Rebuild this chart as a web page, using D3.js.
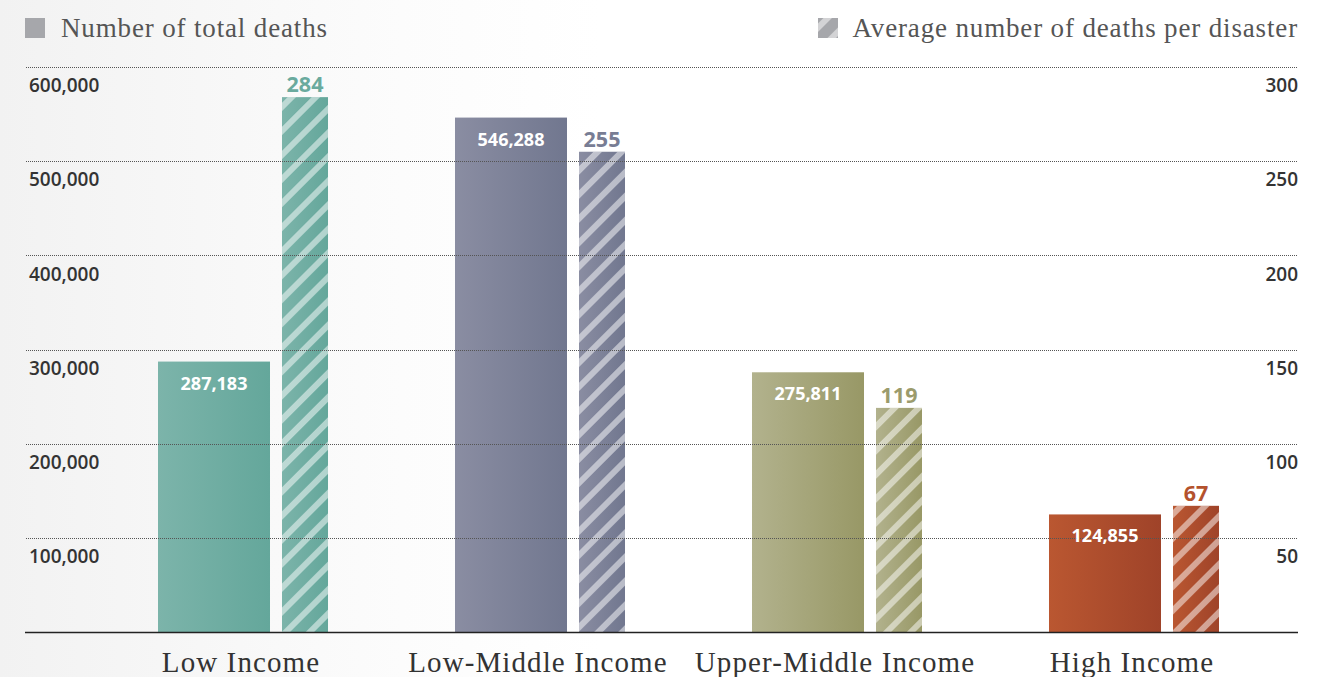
<!DOCTYPE html>
<html>
<head>
<meta charset="utf-8">
<script src="https://cdn.jsdelivr.net/npm/d3@7"></script>
<style>
  body { margin: 0; background: #fff; }
  svg { display: block; }
</style>
</head>
<body>
<div id="chart"></div>
<script>
// Data
const categories = ["Low Income", "Low-Middle Income", "Upper-Middle Income", "High Income"];
const totalDeaths = [287183, 546288, 275811, 124855];
const avgDeaths = [284, 255, 119, 67];
const leftTicks = [100000, 200000, 300000, 400000, 500000, 600000];
const rightTicks = [50, 100, 150, 200, 250, 300];
const colorsLight = ["#7cb4aa", "#8a8da2", "#b2b28d", "#ba5731"];
const colorsDark = ["#64a79b", "#71778f", "#989866", "#9f4329"];
const labelColors = ["#6aaa9e", "#787d94", "#9b9b6c", "#b4522d"];

const W = 1335, H = 677;
const svg = d3.select("#chart").append("svg")
    .attr("width", W)
    .attr("height", H);

const defs = svg.append("defs");

// soft grey fade on the left edge
const bg = defs.append("linearGradient").attr("id", "bg");
bg.append("stop").attr("offset", "0%").attr("stop-color", "#f2f2f2");
bg.append("stop").attr("offset", "30%").attr("stop-color", "#fcfcfc");
bg.append("stop").attr("offset", "45%").attr("stop-color", "#ffffff");
svg.append("rect").attr("width", W).attr("height", H).attr("fill", "url(#bg)");

// bar gradients and stripe patterns
categories.forEach((c, i) => {
    const g = defs.append("linearGradient").attr("id", "grad" + i);
    g.append("stop").attr("offset", "0%").attr("stop-color", colorsLight[i]);
    g.append("stop").attr("offset", "100%").attr("stop-color", colorsDark[i]);
});
const stripe = defs.append("pattern")
    .attr("id", "stripes")
    .attr("patternUnits", "userSpaceOnUse")
    .attr("width", 17).attr("height", 17)
    .attr("patternTransform", "rotate(45)");
stripe.append("rect")
    .attr("x", 0).attr("y", 0)
    .attr("width", 6).attr("height", 17)
    .attr("fill", "rgba(255,255,255,0.5)");

const y0 = 632, yTop = 67;
const yLeft = d3.scaleLinear().domain([0, 600000]).range([y0, yTop]);
const yRight = d3.scaleLinear().domain([0, 300]).range([y0, yTop]);

const x = d3.scaleBand()
    .domain(categories)
    .range([158, 1219])
    .paddingInner(0.4276)
    .paddingOuter(0);
const bw = x.bandwidth();
const solidW = bw * 112 / 170;
const hatchX = bw * 124 / 170;
const hatchW = bw - hatchX;

const fmt = d3.format(",");
const sans = "'Open Sans', 'Noto Sans', sans-serif";
const serif = "'Liberation Serif', 'DejaVu Serif', serif";

// solid bars
svg.append("g").selectAll("rect")
    .data(totalDeaths)
    .join("rect")
    .attr("x", (d, i) => x(categories[i]))
    .attr("y", d => yLeft(d))
    .attr("width", solidW)
    .attr("height", d => y0 - yLeft(d))
    .attr("fill", (d, i) => `url(#grad${i})`);

// hatched bars
const hb = svg.append("g").selectAll("g")
    .data(avgDeaths)
    .join("g");
hb.append("rect")
    .attr("x", (d, i) => x(categories[i]) + hatchX)
    .attr("y", d => yRight(d))
    .attr("width", hatchW)
    .attr("height", d => y0 - yRight(d))
    .attr("fill", (d, i) => `url(#grad${i})`);
hb.append("rect")
    .attr("x", (d, i) => x(categories[i]) + hatchX)
    .attr("y", d => yRight(d))
    .attr("width", hatchW)
    .attr("height", d => y0 - yRight(d))
    .attr("fill", "url(#stripes)");

// grid lines (dotted, above the bars)
svg.append("g").selectAll("line")
    .data(leftTicks)
    .join("line")
    .attr("x1", 26).attr("x2", 1298)
    .attr("y1", d => Math.round(yLeft(d)) + 0.5)
    .attr("y2", d => Math.round(yLeft(d)) + 0.5)
    .attr("stroke", "#555")
    .attr("stroke-width", 1)
    .attr("stroke-dasharray", "1,1");

// baseline
svg.append("line")
    .attr("x1", 25).attr("x2", 1298)
    .attr("y1", y0 + 0.5).attr("y2", y0 + 0.5)
    .attr("stroke", "#222")
    .attr("stroke-width", 1.5);

// axes labels
const leftAxis = d3.axisLeft(yLeft).tickValues(leftTicks).tickFormat(fmt).tickSize(0);
const gl = svg.append("g").attr("transform", "translate(29,0)").call(leftAxis);
gl.select(".domain").remove();
gl.selectAll("text")
    .attr("x", 0).attr("dy", "1.3em")
    .attr("text-anchor", "start")
    .attr("font-family", sans)
    .attr("font-size", 19)
    .attr("font-weight", 600)
    .attr("fill", "#333");

const rightAxis = d3.axisRight(yRight).tickValues(rightTicks).tickSize(0);
const gr = svg.append("g").attr("transform", "translate(1298,0)").call(rightAxis);
gr.select(".domain").remove();
gr.selectAll("text")
    .attr("x", 0).attr("dy", "1.3em")
    .attr("text-anchor", "end")
    .attr("font-family", sans)
    .attr("font-size", 19)
    .attr("font-weight", 600)
    .attr("fill", "#333");

// value labels
svg.append("g").selectAll("text")
    .data(totalDeaths)
    .join("text")
    .attr("x", (d, i) => x(categories[i]) + solidW / 2)
    .attr("y", d => yLeft(d) + 28)
    .attr("text-anchor", "middle")
    .attr("font-family", sans)
    .attr("font-size", 18)
    .attr("font-weight", 700)
    .attr("fill", "#fff")
    .text(d => fmt(d));

svg.append("g").selectAll("text")
    .data(avgDeaths)
    .join("text")
    .attr("x", (d, i) => x(categories[i]) + hatchX + hatchW / 2)
    .attr("y", d => yRight(d) - 5)
    .attr("text-anchor", "middle")
    .attr("font-family", sans)
    .attr("font-size", 21.5)
    .attr("font-weight", 700)
    .attr("fill", (d, i) => labelColors[i])
    .text(d => d);

// category labels
svg.append("g").selectAll("text")
    .data(categories)
    .join("text")
    .attr("x", d => x(d) + bw / 2 - 2)
    .attr("y", 672)
    .attr("text-anchor", "middle")
    .attr("font-family", serif)
    .attr("font-size", 29)
    .attr("letter-spacing", 1.1)
    .attr("fill", "#333")
    .text(d => d);

// legend
svg.append("rect")
    .attr("x", 25).attr("y", 18).attr("width", 20).attr("height", 20)
    .attr("fill", "#a6a7ab");
svg.append("text")
    .attr("x", 61).attr("y", 37)
    .attr("font-family", serif)
    .attr("font-size", 27)
    .attr("letter-spacing", 0.85)
    .attr("fill", "#555")
    .text("Number of total deaths");

svg.append("rect")
    .attr("x", 818).attr("y", 18).attr("width", 20).attr("height", 20)
    .attr("fill", "#a6a7ab");
svg.append("rect")
    .attr("x", 818).attr("y", 18).attr("width", 20).attr("height", 20)
    .attr("fill", "url(#stripes)");
svg.append("text")
    .attr("x", 1298).attr("y", 37)
    .attr("text-anchor", "end")
    .attr("font-family", serif)
    .attr("font-size", 27)
    .attr("letter-spacing", 0.85)
    .attr("fill", "#555")
    .text("Average number of deaths per disaster");
</script>
</body>
</html>
